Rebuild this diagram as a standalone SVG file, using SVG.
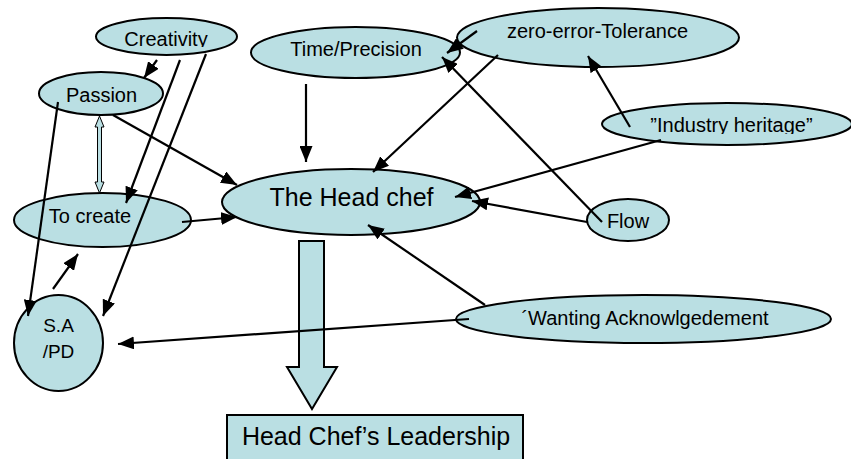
<svg xmlns="http://www.w3.org/2000/svg" width="851" height="459" viewBox="0 0 851 459">
<style>
.n{fill:#BADFE3;stroke:#000;stroke-width:2}
.t{font-family:"Liberation Sans",Arial,sans-serif;font-size:20px;fill:#000;text-anchor:middle}
.b{font-size:25px}
.c line{stroke:#000;stroke-width:2.2;marker-end:url(#ah)}
</style>
<defs>
<marker id="ah" markerUnits="userSpaceOnUse" viewBox="0 0 16 13" refX="16" refY="6.5" markerWidth="16" markerHeight="13" orient="auto">
<path d="M0,0 L16,6.5 L0,13 Z" fill="#000"/>
</marker>
<clipPath id="clipCre"><rect x="0" y="0" width="300" height="47"/></clipPath>
<clipPath id="clipInd"><rect x="590" y="95" width="261" height="39"/></clipPath>
</defs>
<rect width="851" height="459" fill="#fff"/>
<g id="creativity"><ellipse class="n" cx="166.5" cy="36.5" rx="70.5" ry="18.5"/><text class="t" x="166" y="46" clip-path="url(#clipCre)">Creativity</text></g>
<g id="passion"><ellipse class="n" cx="101" cy="93.5" rx="62" ry="21.5"/><text class="t" x="101.5" y="102">Passion</text></g>
<g id="time-precision"><ellipse class="n" cx="355.5" cy="52.5" rx="104.5" ry="25.5"/><text class="t" x="356" y="56">Time/Precision</text></g>
<g id="zero-error"><ellipse class="n" cx="598" cy="37.5" rx="141" ry="29.5"/><text class="t" x="597.5" y="38">zero-error-Tolerance</text></g>
<g id="industry-heritage"><ellipse class="n" cx="727" cy="124" rx="125" ry="21"/><text class="t" x="731.5" y="132" clip-path="url(#clipInd)">”Industry heritage”</text></g>
<g id="head-chef"><ellipse class="n" cx="351" cy="202" rx="129" ry="33"/><text class="t b" x="351.5" y="206">The Head chef</text></g>
<g id="to-create"><ellipse class="n" cx="102.5" cy="220" rx="88.5" ry="27"/><text class="t" x="90" y="223">To create</text></g>
<g id="flow"><ellipse class="n" cx="628" cy="220" rx="41" ry="21"/><text class="t" x="628" y="228">Flow</text></g>
<g id="wanting"><ellipse class="n" cx="643.5" cy="319" rx="187.5" ry="24"/><text class="t" x="645" y="325">´Wanting Acknowlgedement</text></g>
<g id="sa-pd"><ellipse class="n" cx="58.5" cy="343" rx="44.5" ry="48"/><text class="t" x="58.5" y="332" style="font-size:19px">S.A</text><text class="t" x="58.5" y="358" style="font-size:19px">/PD</text></g>
<g id="block-arrow"><path class="n" d="M299,241 H324 V367 H337 L312,409 L287,367 H299 Z"/></g>
<g id="leadership"><rect class="n" x="227" y="415" width="296" height="60"/><text class="t b" x="376" y="445">Head Chef’s Leadership</text></g>
<g id="connectors" class="c">
<path d="M99.5,116 L104,127 L101.5,127 L101.5,182 L104,182 L99.5,193 L95,182 L97.5,182 L97.5,127 L95,127 Z" fill="#BADFE3" stroke="#000" stroke-width="1"/>
<line x1="157" y1="60" x2="144" y2="78"/>
<line x1="180" y1="60" x2="126" y2="203"/>
<line x1="206" y1="54" x2="103" y2="316"/>
<line x1="58" y1="102" x2="28" y2="316"/>
<line x1="113" y1="115" x2="237" y2="185"/>
<line x1="182" y1="222" x2="237" y2="217"/>
<line x1="53" y1="289" x2="78" y2="254"/>
<line x1="306" y1="84" x2="306" y2="162"/>
<line x1="477" y1="31" x2="447" y2="53"/>
<line x1="498" y1="55" x2="373" y2="172"/>
<line x1="602" y1="222" x2="442" y2="57"/>
<line x1="630" y1="127" x2="588" y2="56"/>
<line x1="661" y1="140" x2="455" y2="197"/>
<line x1="587" y1="222" x2="472" y2="201"/>
<line x1="485" y1="305" x2="368" y2="225"/>
<line x1="469" y1="319" x2="118" y2="344"/>
</g>
</svg>
